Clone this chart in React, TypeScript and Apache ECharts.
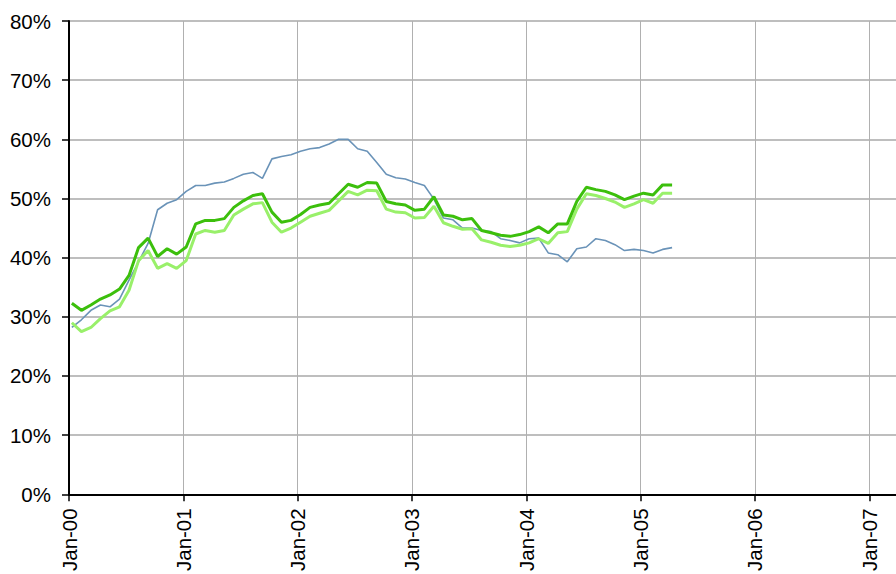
import React, { useEffect, useRef } from "react";
import * as echarts from "echarts";

// Monthly observations, Jan-2000 .. Apr-2005 (percent)
const dayOfMonth = 10;
const yearTicks = ["Jan-00", "Jan-01", "Jan-02", "Jan-03", "Jan-04", "Jan-05", "Jan-06", "Jan-07"];

const seriesBlue = [
  28.2, 29.5, 31.1, 32.0, 31.7, 33.0, 36.2, 39.3, 42.4, 48.1, 49.2, 49.8,
  51.2, 52.2, 52.2, 52.6, 52.8, 53.4, 54.1, 54.4, 53.4, 56.7, 57.1, 57.4,
  58.0, 58.4, 58.6, 59.2, 60.0, 60.0, 58.4, 58.0, 56.1, 54.1, 53.5, 53.3,
  52.7, 52.2, 49.9, 46.7, 46.4, 45.0, 45.0, 44.6, 44.4, 43.2, 42.9, 42.5,
  43.2, 43.3, 40.8, 40.5, 39.3, 41.5, 41.8, 43.2, 42.9, 42.2, 41.2, 41.4,
  41.2, 40.8, 41.4, 41.7,
];

const seriesDarkGreen = [
  32.3, 31.1, 32.0, 33.0, 33.7, 34.7, 37.0, 41.7, 43.3, 40.2, 41.5, 40.6,
  41.8, 45.7, 46.3, 46.3, 46.6, 48.5, 49.6, 50.5, 50.8, 47.7, 46.0, 46.3,
  47.3, 48.5, 48.9, 49.2, 50.8, 52.4, 51.9, 52.7, 52.6, 49.5, 49.1, 48.9,
  48.0, 48.2, 50.3, 47.2, 47.0, 46.4, 46.6, 44.6, 44.2, 43.8, 43.6, 43.9,
  44.4, 45.2, 44.2, 45.7, 45.7, 49.5, 51.9, 51.5, 51.2, 50.6, 49.8, 50.4,
  50.9, 50.6, 52.3, 52.3,
];

const seriesLightGreen = [
  29.0, 27.5, 28.2, 29.7, 31.0, 31.7, 34.5, 39.5, 41.2, 38.2, 39.0, 38.2,
  39.5, 44.0, 44.6, 44.3, 44.6, 47.2, 48.2, 49.1, 49.3, 46.0, 44.3, 45.0,
  46.0, 47.0, 47.5, 48.0, 49.6, 51.2, 50.6, 51.4, 51.3, 48.2, 47.7, 47.6,
  46.7, 46.8, 48.7, 45.9, 45.3, 44.8, 44.9, 43.0, 42.6, 42.1, 41.9, 42.1,
  42.5, 43.2, 42.4, 44.2, 44.4, 48.2, 50.8, 50.5, 50.0, 49.4, 48.5, 49.1,
  49.8, 49.2, 50.9, 50.9,
];

const xMaxMonths = 86.8;

function toPoints(vals: number[]) {
  return vals.map((v, i) => [i + (dayOfMonth - 1) / 30, v]);
}

export default function App() {
  const ref = useRef<HTMLDivElement>(null);
  useEffect(() => {
    document.body.style.margin = "0";
    if (!ref.current) return;
    const chart = echarts.init(ref.current, undefined, { renderer: "svg" });
    const font = "Arial, 'Liberation Sans', Helvetica, sans-serif";
    chart.setOption({
      animation: false,
      backgroundColor: "#ffffff",
      grid: { left: 69, top: 21, right: 0, bottom: 77, containLabel: false },
      xAxis: {
        type: "value",
        min: 0,
        max: xMaxMonths,
        interval: 12,
        axisLine: { show: true, lineStyle: { color: "#000", width: 2 } },
        axisTick: { show: true, length: 7, lineStyle: { color: "#000", width: 1.5 } },
        splitLine: { show: true, lineStyle: { color: "#b0b0b0", width: 1 } },
        axisLabel: {
          rotate: 90,
          margin: 14,
          color: "#000",
          fontSize: 20.5,
          fontFamily: font,
          showMaxLabel: false,
          formatter: (v: number) => {
            const k = Math.round(v / 12);
            if (Math.abs(v - k * 12) > 0.01) return "";
            return yearTicks[k] ?? "";
          },
        },
      },
      yAxis: {
        type: "value",
        min: 0,
        max: 80,
        interval: 10,
        axisLine: { show: true, lineStyle: { color: "#000", width: 2 } },
        axisTick: { show: true, length: 7, lineStyle: { color: "#000", width: 1.5 } },
        splitLine: { show: true, lineStyle: { color: "#a8a8a8", width: 1.5 } },
        axisLabel: {
          margin: 18,
          color: "#000",
          fontSize: 20.5,
          fontFamily: font,
          formatter: (v: number) => `${v}%`,
        },
      },
      series: [
        {
          type: "line",
          name: "Blue",
          data: toPoints(seriesBlue),
          showSymbol: false,
          lineStyle: { color: "#6a93b8", width: 1.6 },
          itemStyle: { color: "#6a93b8" },
          z: 3,
        },
        {
          type: "line",
          name: "Light green",
          data: toPoints(seriesLightGreen),
          showSymbol: false,
          lineStyle: { color: "#99f06a", width: 3 },
          itemStyle: { color: "#99f06a" },
          z: 4,
        },
        {
          type: "line",
          name: "Dark green",
          data: toPoints(seriesDarkGreen),
          showSymbol: false,
          lineStyle: { color: "#3cbf0c", width: 3 },
          itemStyle: { color: "#3cbf0c" },
          z: 5,
        },
      ],
    });
    return () => chart.dispose();
  }, []);
  return <div ref={ref} style={{ width: 896, height: 574 }} />;
}
